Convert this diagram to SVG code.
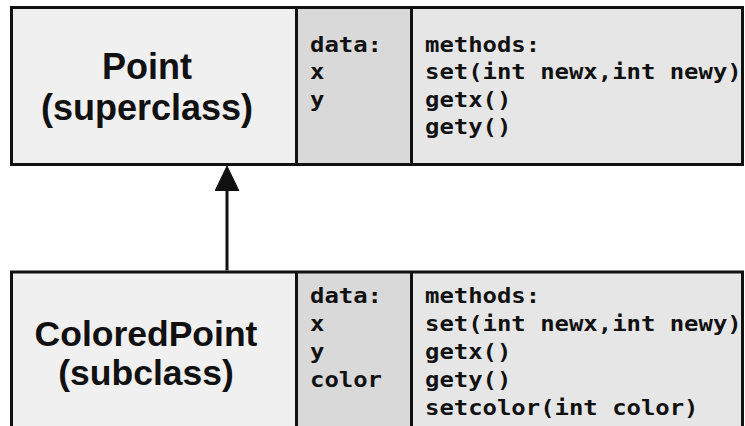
<svg xmlns="http://www.w3.org/2000/svg" width="745" height="426" viewBox="0 0 745 426">
<style>
.title{font-family:"Liberation Sans",Arial,sans-serif;font-weight:bold;font-size:36px;fill:#111;text-anchor:middle}
.title2{font-family:"Liberation Sans",Arial,sans-serif;font-weight:bold;font-size:35.5px;fill:#111;text-anchor:middle}
.mono{font-family:"DejaVu Sans Mono","Liberation Mono",monospace;font-weight:bold;font-size:20.5px;fill:#111}
.edge{stroke:#111;stroke-width:3}
.c1{fill:#f0f0f0}
.c2{fill:#d9d9d9}
.c3{fill:#e6e6e6}
.conn{stroke:#111;stroke-width:3;fill:none}
</style>
<defs>
<marker id="head" viewBox="0 0 25 25" refX="0" refY="12.5" markerWidth="25" markerHeight="25" markerUnits="userSpaceOnUse" orient="auto">
<path d="M0,0.5 L25,12.5 L0,24.5 z" fill="#111" stroke="#111" stroke-width="1" stroke-linejoin="round"/>
</marker>
</defs>
<rect width="745" height="426" fill="#fff"/>
<g id="point">
<rect class="c1" x="11.5" y="7.5" width="285" height="157"/>
<rect class="c2" x="296.5" y="7.5" width="115" height="157"/>
<rect class="c3" x="411.5" y="7.5" width="331" height="157"/>
<rect x="11.5" y="7.5" width="731" height="157" fill="none" class="edge"/>
<line class="edge" x1="296.5" y1="7.5" x2="296.5" y2="164.5"/>
<line class="edge" x1="411.5" y1="7.5" x2="411.5" y2="164.5"/>
<text class="title" x="147" y="78.5">Point</text>
<text class="title" x="147" y="120">(superclass)</text>
<text class="mono" transform="translate(310,52) scale(1.167 1)"><tspan x="0" y="0">data:</tspan><tspan x="0" y="27.5">x</tspan><tspan x="0" y="55">y</tspan></text>
<text class="mono" transform="translate(425,52) scale(1.167 1)"><tspan x="0" y="0">methods:</tspan><tspan x="0" y="27.5">set(int newx,int newy)</tspan><tspan x="0" y="55">getx()</tspan><tspan x="0" y="82.5">gety()</tspan></text>
</g>
<g id="coloredpoint">
<rect class="c1" x="11.5" y="272" width="285" height="170"/>
<rect class="c2" x="296.5" y="272" width="115" height="170"/>
<rect class="c3" x="411.5" y="272" width="331" height="170"/>
<rect x="11.5" y="272" width="731" height="170" fill="none" class="edge"/>
<line class="edge" x1="296.5" y1="272" x2="296.5" y2="442"/>
<line class="edge" x1="411.5" y1="272" x2="411.5" y2="442"/>
<text class="title2" x="146" y="345.5">ColoredPoint</text>
<text class="title2" x="146" y="385">(subclass)</text>
<text class="mono" transform="translate(310,303) scale(1.167 1)"><tspan x="0" y="0">data:</tspan><tspan x="0" y="28">x</tspan><tspan x="0" y="56">y</tspan><tspan x="0" y="84">color</tspan></text>
<text class="mono" transform="translate(425,303) scale(1.167 1)"><tspan x="0" y="0">methods:</tspan><tspan x="0" y="28">set(int newx,int newy)</tspan><tspan x="0" y="56">getx()</tspan><tspan x="0" y="84">gety()</tspan><tspan x="0" y="112">setcolor(int color)</tspan></text>
</g>
<g id="connectors">
<line class="conn" x1="227" y1="270.5" x2="227" y2="191" marker-end="url(#head)"/>
</g>
</svg>
